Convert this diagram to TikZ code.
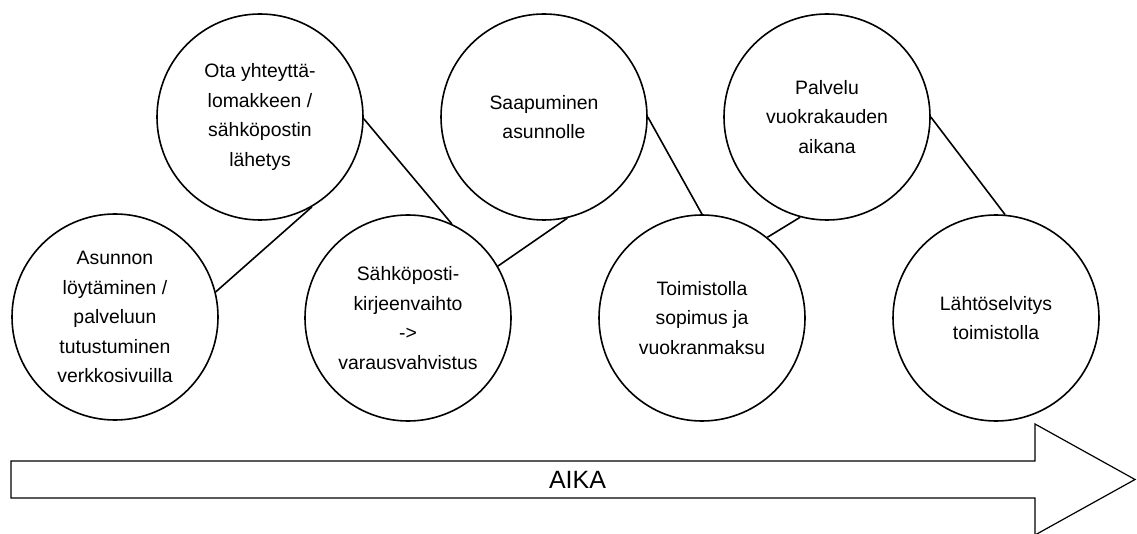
\documentclass[tikz,border=0pt]{standalone}
\usepackage{fontspec}
\setmainfont{Liberation Sans}
\begin{document}
\begin{tikzpicture}[x=1pt,y=-1pt,
  stage/.style={circle, draw, line width=1.6pt, minimum size=206pt, inner sep=0pt, align=center, font=\fontsize{19.4}{29.5}\selectfont},
  link/.style={line width=1.6pt},
  timearrow/.style={draw, line width=1.2pt, line join=miter}]
\useasboundingbox (0,0) rectangle (1137,534);
\node[stage] (s1) at (115,317) {Asunnon\\löytäminen /\\palveluun\\tutustuminen\\verkkosivuilla};
\node[stage] (s2) at (260,117) {Ota yhteyttä-\\lomakkeen /\\sähköpostin\\lähetys};
\node[stage] (s3) at (408,318) {Sähköposti-\\kirjeenvaihto\\->\\varausvahvistus};
\node[stage] (s4) at (544,117) {Saapuminen\\asunnolle};
\node[stage] (s5) at (702,318) {Toimistolla\\sopimus ja\\vuokranmaksu};
\node[stage] (s6) at (827,117) {Palvelu\\vuokrakauden\\aikana};
\node[stage] (s7) at (996,318) {Lähtöselvitys\\toimistolla};
\draw[link] (s1.14) -- (s2.-60);
\draw[link] (s2.-1) -- (s3.65);
\draw[link] (s3.30) -- (s4.-77);
\draw[link] (s4.0) -- (s5.90);
\draw[link] (s5.51) -- (s6.-105);
\draw[link] (s6.0) -- (s7.85);
\draw[timearrow] (11,461) -- (1035,461) -- (1035,424) -- (1135,479.5) -- (1035,535) -- (1035,498) -- (11,498) -- cycle;
\node[font=\fontsize{25}{30}\selectfont, inner sep=0pt] (aika) at (577.5,480) {AIKA};
\end{tikzpicture}
\end{document}
